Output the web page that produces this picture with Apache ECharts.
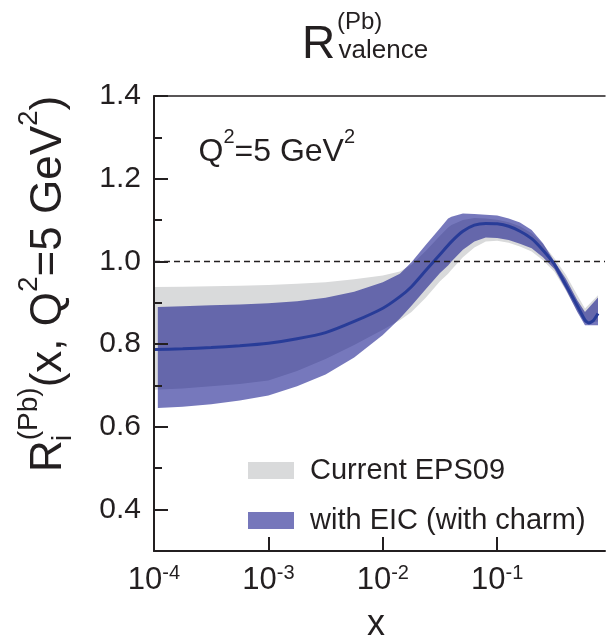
<!DOCTYPE html>
<html><head><meta charset="utf-8">
<script src="https://cdn.jsdelivr.net/npm/echarts@6/dist/echarts.min.js"></script>
<style>html,body{margin:0;padding:0;background:#fff}#c{width:606px;height:639px}</style>
</head><body><div id="c"></div>
<script>
// ---- data ----
const xGray    = [1e-4, 1.78e-4, 3.16e-4, 5.62e-4, 1e-3, 1.78e-3, 3.16e-3, 5.62e-3, 1e-2, 1.41e-2, 1.78e-2, 2.37e-2, 3.16e-2, 3.72e-2, 3.98e-2, 5.01e-2, 6.31e-2, 7.94e-2, 0.1, 0.126, 0.158, 0.2, 0.251, 0.316, 0.398, 0.501, 0.585, 0.76];
const grayLow  = [0.690, 0.693, 0.698, 0.704, 0.712, 0.735, 0.764, 0.798, 0.835, 0.858, 0.878, 0.912, 0.952, 0.970, 0.980, 1.010, 1.034, 1.048, 1.050, 1.045, 1.036, 1.024, 1.003, 0.975, 0.930, 0.880, 0.852, 0.855];
const grayHigh = [0.938, 0.939, 0.940, 0.941, 0.943, 0.946, 0.950, 0.957, 0.966, 0.976, 0.992, 1.025, 1.062, 1.082, 1.088, 1.100, 1.105, 1.104, 1.101, 1.095, 1.085, 1.068, 1.042, 1.008, 0.968, 0.918, 0.886, 0.918];

const xEic     = [1.08e-4, 1.78e-4, 3.16e-4, 5.62e-4, 1e-3, 1.78e-3, 3.16e-3, 5.62e-3, 1e-2, 1.41e-2, 1.78e-2, 2.37e-2, 3.16e-2, 3.72e-2, 3.98e-2, 5.01e-2, 6.31e-2, 7.94e-2, 0.1, 0.126, 0.158, 0.2, 0.251, 0.316, 0.398, 0.501, 0.585, 0.76];
const eicLow   = [0.646, 0.649, 0.655, 0.664, 0.676, 0.698, 0.727, 0.768, 0.822, 0.862, 0.893, 0.933, 0.972, 0.990, 1.000, 1.028, 1.048, 1.058, 1.057, 1.052, 1.043, 1.032, 1.010, 0.982, 0.932, 0.878, 0.846, 0.846];
const eicHigh  = [0.890, 0.892, 0.894, 0.896, 0.899, 0.904, 0.912, 0.927, 0.950, 0.970, 0.998, 1.040, 1.080, 1.104, 1.108, 1.116, 1.115, 1.113, 1.111, 1.104, 1.094, 1.076, 1.044, 1.000, 0.958, 0.906, 0.878, 0.913];

const xCentral = [1e-4, 1.78e-4, 3.16e-4, 5.62e-4, 1e-3, 1.78e-3, 3.16e-3, 5.62e-3, 1e-2, 1.41e-2, 1.78e-2, 2.37e-2, 3.16e-2, 3.98e-2, 5.01e-2, 6.31e-2, 7.94e-2, 0.1, 0.126, 0.158, 0.2, 0.251, 0.316, 0.398, 0.501, 0.585, 0.631, 0.692, 0.76];
const central  = [0.787, 0.789, 0.792, 0.796, 0.802, 0.813, 0.828, 0.855, 0.887, 0.915, 0.939, 0.978, 1.017, 1.048, 1.073, 1.088, 1.092, 1.091, 1.085, 1.073, 1.055, 1.027, 0.993, 0.943, 0.893, 0.858, 0.851, 0.857, 0.874];

const refLevel = 1.0;
const yTickMin = 0.4, yTickMax = 1.4, yTickStep = 0.2;
const xTickMin = 1e-4, xTickMax = 1e-1;
const legendNames = ['Current EPS09', 'with EIC (with charm)'];

// ---- chart ----
const FONT = 'Liberation Sans';
const INK = '#231f20';
const GRAY = '#d9dadb';
const BLUE = 'rgba(1,5,131,0.54)';
const BLUE_ON_WHITE = '#7677bb';

function pairs(xs, ys) { return xs.map((x, i) => [x, ys[i]]); }

function bandSeries(name, xs, lo, hi, color, legendColor, z) {
  return {
    name: name, type: 'custom', xAxisIndex: 0, yAxisIndex: 0, silent: true, z: z,
    data: xs.map((x, i) => [x, lo[i], hi[i]]),
    encode: {x: 0, y: [1, 2]},
    itemStyle: {color: legendColor},
    renderItem: function (params, api) {
      if (params.dataIndexInside !== 0) return null;
      const n = params.dataInsideLength;
      const top = [], bottom = [];
      for (let i = 0; i < n; i++) {
        const x = api.value(0, i);
        top.push(api.coord([x, api.value(2, i)]));
        bottom.push(api.coord([x, api.value(1, i)]));
      }
      return {type: 'polygon', shape: {points: top.concat(bottom.reverse())},
              style: {fill: color, stroke: null}};
    }
  };
}

const gridBase = {outerBoundsMode: 'none', containLabel: false};
const chart = echarts.init(document.getElementById('c'), null, {renderer: 'canvas'});
const option = {
  animation: false,
  backgroundColor: '#fff',
  textStyle: {fontFamily: FONT},
  grid: [
    Object.assign({left: 154, top: 96, width: 451, height: 455}, gridBase),
    Object.assign({left: 154, top: 96, width: 343.2, height: 455}, gridBase),
    Object.assign({left: 154, top: 96, width: 451, height: 413.6}, gridBase)
  ],
  xAxis: [
    {gridIndex: 0, type: 'log', logBase: 10, min: 1e-4, max: 0.875, position: 'bottom', z: 10,
     axisLine: {show: true, lineStyle: {color: INK, width: 2}}, axisTick: {show: false}, axisLabel: {show: false},
     splitLine: {show: false}, minorTick: {show: false}},
    {gridIndex: 0, type: 'log', logBase: 10, min: 1e-4, max: 0.875, position: 'top', z: 10,
     axisLine: {show: true, lineStyle: {color: INK, width: 1.5}}, axisTick: {show: false}, axisLabel: {show: false},
     splitLine: {show: false}},
    {gridIndex: 1, type: 'log', logBase: 10, min: xTickMin, max: xTickMax, position: 'bottom', z: 10,
     axisLine: {show: false},
     axisTick: {show: true, inside: true, length: 14, lineStyle: {color: INK, width: 2}},
     splitLine: {show: false},
     axisLabel: {show: true, margin: 12, color: INK,
       formatter: v => '{b|10}{s|' + Math.round(Math.log10(v)) + '}',
       rich: {b: {fontSize: 31, fontFamily: FONT, color: INK, lineHeight: 35},
              s: {fontSize: 20, fontFamily: FONT, color: INK, verticalAlign: 'top', lineHeight: 20}}}},
    {gridIndex: 2, type: 'value', show: false, min: 0, max: 1}
  ],
  yAxis: [
    {gridIndex: 0, type: 'value', min: 0.3, max: 1.4, z: 10,
     axisLine: {show: true, lineStyle: {color: INK, width: 2}}, axisTick: {show: false}, axisLabel: {show: false},
     splitLine: {show: false}},
    {gridIndex: 1, type: 'value', show: false, min: 0, max: 1},
    {gridIndex: 2, type: 'value', min: yTickMin, max: yTickMax, interval: yTickStep, z: 10,
     axisLine: {show: false},
     axisTick: {show: true, inside: true, length: 14, lineStyle: {color: INK, width: 2}},
     minorTick: {show: true, splitNumber: 2, length: 8, lineStyle: {color: INK, width: 2}},
     splitLine: {show: false}, minorSplitLine: {show: false},
     axisLabel: {fontSize: 30, fontFamily: FONT, color: INK, margin: 13, formatter: v => v.toFixed(1)}}
  ],
  legend: {
    left: 248, top: 456, padding: 0, orient: 'vertical', itemWidth: 46, itemHeight: 17, itemGap: 21,
    selectedMode: false, icon: 'rect',
    textStyle: {fontSize: 29, fontFamily: FONT, color: INK, lineHeight: 17, padding: [0, 0, 0, 11]},
    data: [
      {name: legendNames[0], icon: 'rect', itemStyle: {color: GRAY, borderWidth: 0}},
      {name: legendNames[1], icon: 'rect', itemStyle: {color: BLUE_ON_WHITE, borderWidth: 0}}
    ]
  },
  series: [
    bandSeries(legendNames[0], xGray, grayLow, grayHigh, GRAY, GRAY, 2),
    bandSeries(legendNames[1], xEic, eicLow, eicHigh, BLUE, BLUE_ON_WHITE, 3),
    {name: 'central', type: 'line', xAxisIndex: 0, yAxisIndex: 0, symbol: 'none', silent: true, smooth: 0.2,
     lineStyle: {color: '#283c98', width: 3}, data: pairs(xCentral, central), z: 4,
     markLine: {silent: true, symbol: ['none', 'none'], label: {show: false},
       lineStyle: {color: INK, width: 1.3, type: [6, 4]},
       data: [{yAxis: refLevel}]}}
  ],
  graphic: [
    {type: 'text', x: 302, y: 45, style: {text: 'R', fontSize: 46, fontFamily: FONT, fill: INK, align: 'left', verticalAlign: 'middle'}},
    {type: 'text', x: 337, y: 22.7, style: {text: '(Pb)', fontSize: 24, fontFamily: FONT, fill: INK, align: 'left', verticalAlign: 'middle'}},
    {type: 'text', x: 338.5, y: 51, style: {text: 'valence', fontSize: 26, fontFamily: FONT, fill: INK, align: 'left', verticalAlign: 'middle'}},
    {type: 'text', x: 198.5, y: 151.7, style: {
      text: '{m|Q}{s|2}{m|=5 GeV}{s|2}', align: 'left', verticalAlign: 'middle',
      rich: {m: {fontSize: 32, fontFamily: FONT, fill: INK, lineHeight: 48},
             s: {fontSize: 20, fontFamily: FONT, fill: INK, verticalAlign: 'top', lineHeight: 20}}}},
    {type: 'text', x: 376, y: 625, style: {text: 'x', fontSize: 36, fontFamily: FONT, fill: INK, align: 'center', verticalAlign: 'middle'}},
    {type: 'group', x: 48.6, y: 472, rotation: Math.PI / 2, children: [
      {type: 'text', x: 0, y: 0, style: {
        text: '{m|R}{s|(Pb)}{m|(x, Q}{s|2}{m|=5 GeV}{s|2}{m|)}', align: 'left', verticalAlign: 'middle',
        rich: {m: {fontSize: 44, fontFamily: FONT, fill: INK, lineHeight: 66},
               s: {fontSize: 28, fontFamily: FONT, fill: INK, verticalAlign: 'top', lineHeight: 28}}}},
      {type: 'text', x: 31, y: 14.4, style: {text: 'i', fontSize: 28, fontFamily: FONT, fill: INK, align: 'left', verticalAlign: 'middle'}}
    ]}
  ]
};
chart.setOption(option);
</script>
</body></html>
